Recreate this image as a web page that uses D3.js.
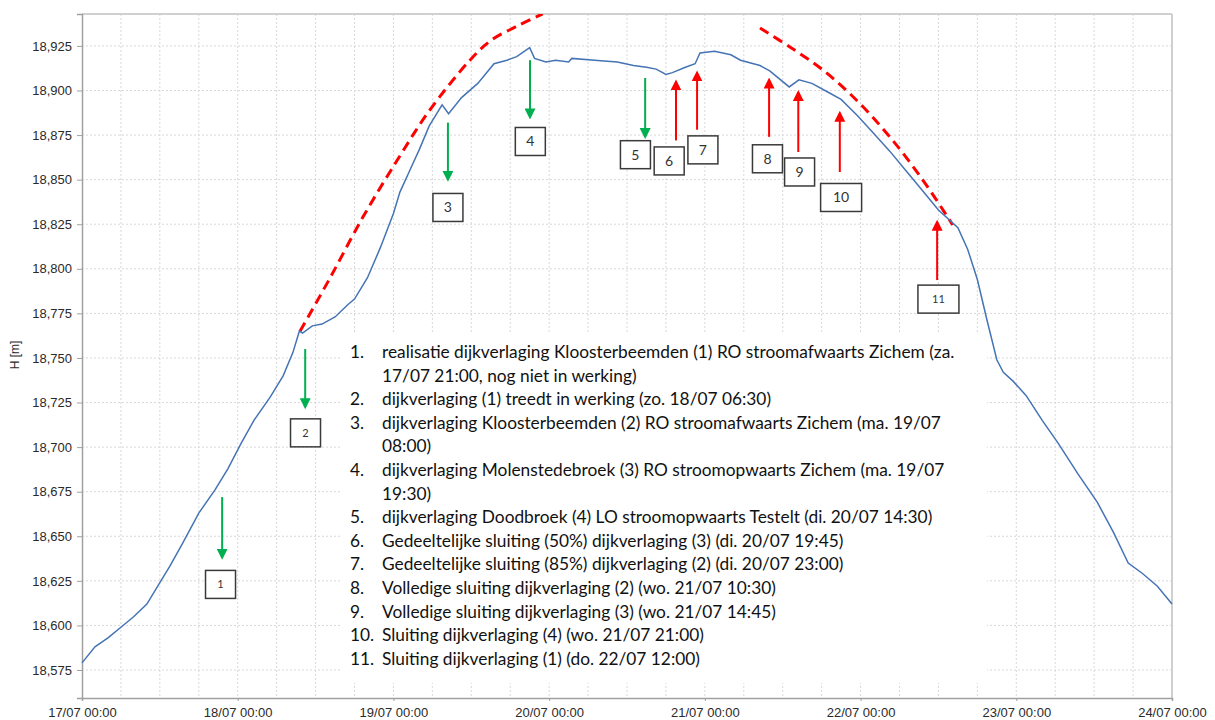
<!DOCTYPE html>
<html>
<head>
<meta charset="utf-8">
<script src="https://cdn.jsdelivr.net/npm/d3@7.9.0/dist/d3.min.js"></script>
<style>
  body { margin: 0; background: #fff; }
  svg { display: block; }
</style>
</head>
<body>
<div id="chart"></div>
<script>
const tijden = [
  '17/07 00:00', '17/07 02:00', '17/07 04:00', '17/07 06:00', '17/07 08:00', '17/07 10:00', '17/07 12:00',
  '17/07 13:30', '17/07 15:30', '17/07 18:00', '17/07 20:30', '17/07 22:30', '18/07 00:30',
  '18/07 02:30', '18/07 05:00', '18/07 07:00', '18/07 08:30', '18/07 09:30', '18/07 10:00',
  '18/07 11:30', '18/07 13:00', '18/07 15:00', '18/07 17:00', '18/07 18:00', '18/07 20:00', '18/07 22:00',
  '19/07 00:00', '19/07 01:00', '19/07 02:30', '19/07 04:00', '19/07 05:30', '19/07 07:30',
  '19/07 08:30', '19/07 10:30', '19/07 13:00', '19/07 15:30', '19/07 17:30', '19/07 19:00',
  '19/07 21:00', '19/07 21:45', '19/07 23:30', '20/07 01:00', '20/07 03:00', '20/07 03:30',
  '20/07 07:00', '20/07 10:30', '20/07 13:00', '20/07 15:00', '20/07 16:30', '20/07 18:00',
  '20/07 19:00', '20/07 21:00', '20/07 22:30', '20/07 23:15', '21/07 01:30', '21/07 04:00',
  '21/07 05:30', '21/07 08:30', '21/07 09:00', '21/07 10:00', '21/07 13:00', '21/07 14:30',
  '21/07 16:30', '21/07 19:00', '21/07 21:00', '21/07 23:30', '22/07 02:00', '22/07 04:30',
  '22/07 07:00', '22/07 09:30', '22/07 12:00', '22/07 15:00', '22/07 16:30', '22/07 18:00',
  '22/07 19:30', '22/07 21:00', '22/07 22:00', '22/07 23:30', '23/07 01:30', '23/07 04:00',
  '23/07 06:30', '23/07 09:30', '23/07 12:30', '23/07 15:00', '23/07 17:15', '23/07 19:30',
  '23/07 21:45', '24/07 00:00'
];
const peil = [
  18.579, 18.588, 18.593, 18.599, 18.605, 18.612, 18.624,
  18.633, 18.646, 18.663, 18.676, 18.688, 18.702,
  18.715, 18.728, 18.740, 18.753, 18.765, 18.764,
  18.768, 18.769, 18.773, 18.780, 18.783, 18.795, 18.812,
  18.831, 18.843, 18.855, 18.867, 18.880, 18.892,
  18.887, 18.896, 18.904, 18.915, 18.917, 18.919,
  18.924, 18.918, 18.916, 18.917, 18.916, 18.918,
  18.917, 18.916, 18.914, 18.913, 18.912, 18.909,
  18.910, 18.913, 18.915, 18.921, 18.922, 18.920,
  18.917, 18.914, 18.913, 18.911, 18.902, 18.906,
  18.904, 18.899, 18.895, 18.886, 18.876, 18.866,
  18.855, 18.844, 18.833, 18.823, 18.811, 18.794,
  18.771, 18.749, 18.742, 18.737, 18.729, 18.715,
  18.702, 18.685, 18.669, 18.652, 18.635, 18.629,
  18.622, 18.612
];

// rode stippellijnen (verloop zonder dijkverlagingen)
const rood1Tijd = ['18/07 09:36', '18/07 14:06', '18/07 19:18', '19/07 00:36', '19/07 05:36', '19/07 11:48', '19/07 15:00', '19/07 19:00', '19/07 23:00'];
const rood1Peil = [18.765, 18.794, 18.829, 18.861, 18.889, 18.917, 18.928, 18.936, 18.943];
const rood2Tijd = ['21/07 08:30', '21/07 13:06', '21/07 18:12', '21/07 23:30', '22/07 04:30', '22/07 09:36', '22/07 14:12'];
const rood2Peil = [18.935, 18.9244, 18.9115, 18.8941, 18.874, 18.8498, 18.8246];

// pijlen + genummerde kaders
const pijlNr = ['1', '2', '3', '4', '5', '6', '7', '8', '9', '10', '11'];
const pijlTijd = ['17/07 21:36', '18/07 10:24', '19/07 08:24', '19/07 21:03', '20/07 14:48', '20/07 19:33', '20/07 22:48', '21/07 09:54', '21/07 14:24', '21/07 20:48', '22/07 11:48'];
const pijlVan = [18.672, 18.755, 18.882, 18.917, 18.907, 18.872, 18.878, 18.874, 18.8655, 18.8543, 18.7937];
const pijlNaar = [18.638, 18.7225, 18.850, 18.885, 18.874, 18.905, 18.910, 18.906, 18.899, 18.8874, 18.8263];
const kaderTijd = ['17/07 21:21', '18/07 10:27', '19/07 08:24', '19/07 21:06', '20/07 13:18', '20/07 18:30', '20/07 23:42', '21/07 09:39', '21/07 14:36', '21/07 21:00', '22/07 12:00'];
const kaderPeil = [18.623, 18.708, 18.8344, 18.8714, 18.864, 18.8605, 18.8667, 18.8617, 18.8543, 18.840, 18.783];

const legende = [
  ['1.', 'realisatie dijkverlaging Kloosterbeemden (1) RO stroomafwaarts Zichem (za.'],
  ['', '17/07 21:00, nog niet in werking)'],
  ['2.', 'dijkverlaging (1) treedt in werking (zo. 18/07 06:30)'],
  ['3.', 'dijkverlaging Kloosterbeemden (2) RO stroomafwaarts Zichem (ma. 19/07'],
  ['', '08:00)'],
  ['4.', 'dijkverlaging Molenstedebroek (3) RO stroomopwaarts Zichem (ma. 19/07'],
  ['', '19:30)'],
  ['5.', 'dijkverlaging Doodbroek (4) LO stroomopwaarts Testelt (di. 20/07 14:30)'],
  ['6.', 'Gedeeltelijke sluiting (50%) dijkverlaging (3) (di. 20/07 19:45)'],
  ['7.', 'Gedeeltelijke sluiting (85%) dijkverlaging (2) (di. 20/07 23:00)'],
  ['8.', 'Volledige sluiting dijkverlaging (2) (wo. 21/07 10:30)'],
  ['9.', 'Volledige sluiting dijkverlaging (3) (wo. 21/07 14:45)'],
  ['10.', 'Sluiting dijkverlaging (4) (wo. 21/07 21:00)'],
  ['11.', 'Sluiting dijkverlaging (1) (do. 22/07 12:00)']
];

const yTicks = [18.575, 18.6, 18.625, 18.65, 18.675, 18.7, 18.725, 18.75, 18.775, 18.8, 18.825, 18.85, 18.875, 18.9, 18.925];
const xTicks = ['17/07 00:00', '18/07 00:00', '19/07 00:00', '20/07 00:00', '21/07 00:00', '22/07 00:00', '23/07 00:00', '24/07 00:00'];

const parse = d3.timeParse('%d/%m/%Y %H:%M');
const t = (s) => parse(s.replace(' ', '/2021 '));

const W = 1215, H = 720;
const margin = { left: 82, top: 14, right: 43, bottom: 22 };
const iw = W - margin.left - margin.right;
const ih = H - margin.top - margin.bottom;

const svg = d3.select('#chart').append('svg').attr('width', W).attr('height', H);
const g = svg.append('g').attr('transform', `translate(${margin.left},${margin.top})`);

const x = d3.scaleTime().domain([t(xTicks[0]), t(xTicks[xTicks.length - 1])]).range([0, iw]);
const y = d3.scaleLinear().domain([18.5593, 18.9429]).range([ih, 0]);

// grid
const grid = g.append('g').attr('stroke', '#d8d8d8').attr('stroke-dasharray', '2,2').attr('stroke-width', 1);
grid.selectAll('line.h').data(yTicks).join('line')
  .attr('x1', 0).attr('x2', iw).attr('y1', (d) => y(d)).attr('y2', (d) => y(d));
const sixHours = d3.timeHour.every(6).range(t(xTicks[0]), t(xTicks[xTicks.length - 1]));
grid.selectAll('line.v').data(sixHours.slice(1)).join('line')
  .attr('y1', 0).attr('y2', ih).attr('x1', (d) => x(d)).attr('x2', (d) => x(d));

// witte achtergrond voor de legende
g.append('rect')
  .attr('x', 340 - margin.left).attr('y', 333 - margin.top)
  .attr('width', 647).attr('height', 350).attr('fill', '#fff');

// frame
g.append('line').attr('x1', 0).attr('x2', iw).attr('y1', 0).attr('y2', 0).attr('stroke', '#d0d0d0').attr('stroke-width', 2);
g.append('line').attr('x1', iw).attr('x2', iw).attr('y1', 0).attr('y2', ih).attr('stroke', '#d0d0d0').attr('stroke-width', 2);

// assen
const nl = d3.formatLocale({ decimal: ',', thousands: '.', grouping: [3], currency: ['€', ''] });
const yAxis = g.append('g').call(d3.axisLeft(y).tickValues(yTicks).tickFormat(nl.format('.3f')).tickSize(5).tickPadding(5));
const xAxis = g.append('g').attr('transform', `translate(0,${ih})`)
  .call(d3.axisBottom(x).tickValues(xTicks.map(t)).tickFormat(d3.timeFormat('%d/%m %H:%M')).tickSize(3).tickPadding(7));
[yAxis, xAxis].forEach((a) => {
  a.select('.domain').attr('stroke', '#a0a0a0').attr('stroke-width', 1.5);
  a.selectAll('.tick line').attr('stroke', '#a0a0a0');
  a.selectAll('.tick text').attr('fill', '#2a2a2a').attr('font-family', 'Liberation Sans, Arial, sans-serif').attr('font-size', 13);
});

svg.append('text')
  .attr('transform', 'translate(19,355) rotate(-90)')
  .attr('text-anchor', 'middle')
  .attr('font-family', 'Liberation Sans, Arial, sans-serif')
  .attr('font-size', 12).attr('fill', '#2a2a2a')
  .text('H [m]');

// clip
svg.append('defs').append('clipPath').attr('id', 'clip')
  .append('rect').attr('width', iw).attr('height', ih);

const rood = g.append('g').attr('clip-path', 'url(#clip)');
const roodLijn = d3.line().x((d) => x(d[0])).y((d) => y(d[1])).curve(d3.curveCatmullRom);
[[rood1Tijd, rood1Peil], [rood2Tijd, rood2Peil]].forEach(([tt, pp]) => {
  rood.append('path')
    .datum(tt.map((d, i) => [t(d), pp[i]]))
    .attr('fill', 'none').attr('stroke', '#ff0000').attr('stroke-width', 3)
    .attr('stroke-dasharray', '10,6')
    .attr('d', roodLijn);
});

g.append('path')
  .datum(tijden.map((d, i) => [t(d), peil[i]]))
  .attr('fill', 'none').attr('stroke', '#4574b5').attr('stroke-width', 1.5)
  .attr('d', d3.line().x((d) => x(d[0])).y((d) => y(d[1])));

// pijlen
const defs = svg.select('defs');
[['groen', '#00b050'], ['rood', '#ff0000']].forEach(([id, c]) => {
  defs.append('marker').attr('id', id).attr('viewBox', '0 0 10 10')
    .attr('refX', 8).attr('refY', 5).attr('markerWidth', 11).attr('markerHeight', 11)
    .attr('markerUnits', 'userSpaceOnUse').attr('orient', 'auto')
    .append('path').attr('d', 'M0,0L10,5L0,10Z').attr('fill', c);
});
const pijlen = g.append('g');
pijlNr.forEach((nr, i) => {
  const omlaag = pijlNaar[i] < pijlVan[i];
  pijlen.append('line')
    .attr('x1', x(t(pijlTijd[i]))).attr('x2', x(t(pijlTijd[i])))
    .attr('y1', y(pijlVan[i])).attr('y2', y(pijlNaar[i]))
    .attr('stroke', omlaag ? '#00b050' : '#ff0000').attr('stroke-width', 2)
    .attr('marker-end', omlaag ? 'url(#groen)' : 'url(#rood)');
  const bw = nr.length > 1 ? 41 : 30;
  const cx = x(t(kaderTijd[i])), cy = y(kaderPeil[i]);
  pijlen.append('rect')
    .attr('x', cx - bw / 2).attr('y', cy - 14).attr('width', bw).attr('height', 28)
    .attr('fill', '#fff').attr('stroke', '#3a3a3a').attr('stroke-width', 1.5);
  const klein = (nr === '1' || nr === '2' || nr === '11');
  pijlen.append('text')
    .attr('x', cx).attr('y', cy + (klein ? 4 : 5))
    .attr('text-anchor', 'middle')
    .attr('font-family', 'Lato, sans-serif')
    .attr('font-size', klein ? 11 : 14).attr('fill', '#333')
    .text(nr);
});

// legende tekst
const leg = svg.append('g').attr('font-family', 'Lato, sans-serif').attr('fill', '#111');
const fs = 15.5;
legende.forEach(([n, tekst], i) => {
  const yy = 358 + i * 23.6;
  leg.append('text').attr('x', 350).attr('y', yy).attr('font-size', fs).text(n);
  leg.append('text').attr('class', 'lt').attr('x', 382).attr('y', yy).attr('font-size', fs).text(tekst);
});
// lettergrootte afstemmen op breedte eerste regel
const w0 = leg.select('.lt').node().getComputedTextLength();
leg.selectAll('text').attr('font-size', fs * 573 / w0);
</script>
</body>
</html>
